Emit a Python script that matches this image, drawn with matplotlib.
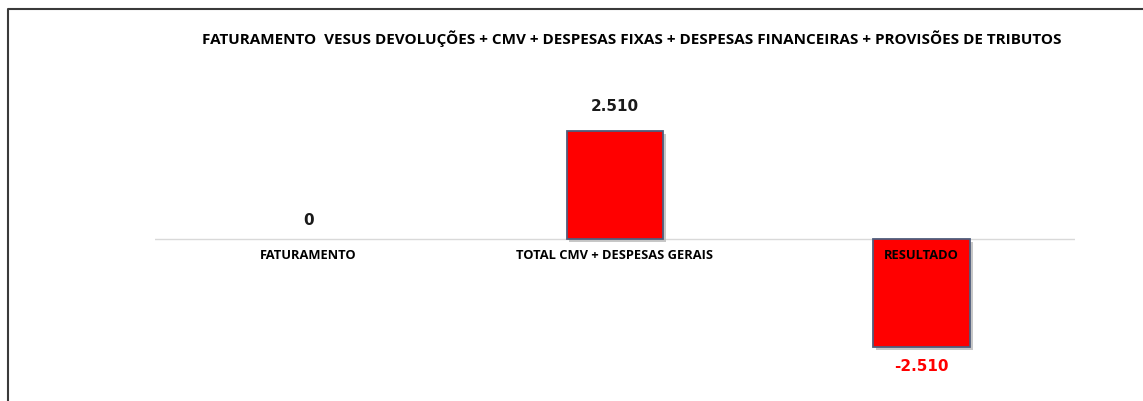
import matplotlib
matplotlib.use("Agg")
import matplotlib.pyplot as plt
import matplotlib.patheffects as pe
from matplotlib.lines import Line2D

# dados do gráfico
categorias = ["FATURAMENTO", "TOTAL CMV + DESPESAS GERAIS", "RESULTADO"]
valores = [0, 2510, -2510]
rotulos = ["0", "2.510", "-2.510"]
titulo = "FATURAMENTO  VESUS DEVOLUÇÕES + CMV + DESPESAS FIXAS + DESPESAS FINANCEIRAS + PROVISÕES DE TRIBUTOS"

W, H = 1143, 401
fig = plt.figure(figsize=(W / 100, H / 100), dpi=100)
fig.patch.set_facecolor("white")

# eixo: x de 155 a 1075 px, y de 60 px (topo) ao fundo da figura
ax = fig.add_axes([155 / W, 0, 920 / W, (H - 60) / H])
ax.set_xlim(-0.5, 2.5)
ax.set_ylim(-3768, 4160)
ax.axis("off")

x = list(range(len(categorias)))
bars = ax.bar(x, valores, width=0.315, color="#ff0000", edgecolor="#4f5d7c",
              linewidth=1.3, zorder=3)
for b, v in zip(bars, valores):
    if v == 0:
        b.set_visible(False)
        continue
    b.set_path_effects([pe.SimplePatchShadow(offset=(2, -2), shadow_rgbFace="#b0b0b0", alpha=0.7),
                        pe.Normal()])

ax.axhline(0, color="#d9d9d9", lw=1, zorder=2)

# rótulos de valor
for xi, v, lab in zip(x, valores, rotulos):
    if v < 0:
        ax.annotate(lab, (xi, v), xytext=(0, -20), textcoords="offset pixels",
                    ha="center", va="center", fontsize=11, fontweight="bold",
                    color="#ff0000", family="DejaVu Sans")
    else:
        off = 24 if v > 0 else 18
        ax.annotate(lab, (xi, v), xytext=(0, off), textcoords="offset pixels",
                    ha="center", va="center", fontsize=11, fontweight="bold",
                    color="#1a1a1a", family="DejaVu Sans")

# nomes das categorias logo abaixo da linha zero
for xi, c in zip(x, categorias):
    ax.annotate(c, (xi, 0), xytext=(0, -17), textcoords="offset pixels",
                ha="center", va="center", fontsize=9.3, fontweight="bold",
                color="black", family="Open Sans", zorder=5)

fig.text(632 / W, 1 - 39 / H, titulo, ha="center", va="center", fontsize=11,
         fontweight="bold", family="Open Sans")

# moldura (recortada à direita e embaixo)
fig.add_artist(Line2D([8 / W, 8 / W, 1.0], [0, 1 - 9 / H, 1 - 9 / H],
                      color="#3a3a3a", lw=1.5, transform=fig.transFigure))

fig.savefig("out.png", dpi=100)
